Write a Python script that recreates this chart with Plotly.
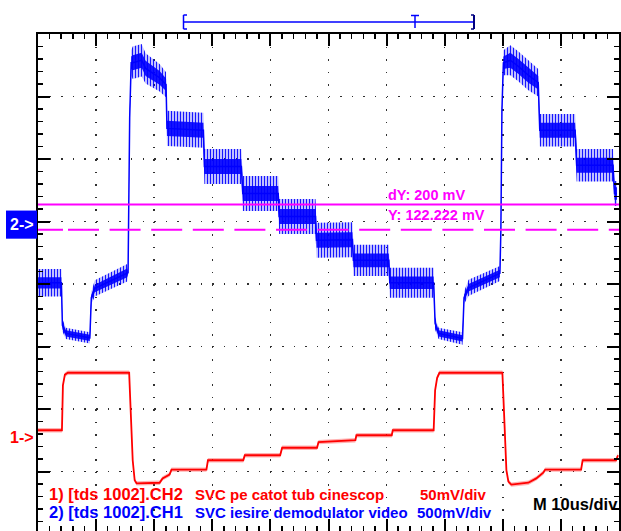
import plotly.graph_objects as go

# ---------------- data (x: time in us, 10 us/div ; y: screen divisions) ----------------
blue_t = [0, 4.03, 4.2, 4.8, 8.92, 9.18, 9.78, 15.35, 15.5, 15.78, 16.04, 16.3, 17.84,
          18.52, 20.93, 22.04, 22.2, 28.47, 28.64, 35.0, 35.25, 41.34, 41.51, 47.77,
          47.94, 54.12, 54.29, 60.38, 60.55, 68.1, 68.35, 68.95, 73.07, 73.33, 74.1,
          79.5, 79.67, 79.85, 80.1, 81.3, 82.7, 84.4, 86.1, 86.36, 92.45, 92.71, 98.97,
          99.23, 99.66]
blue_v = [0.02, 0.02, -0.66, -0.79, -0.86, -0.22, -0.07, 0.18, 0.18, 2.66, 3.54, 3.54,
          3.58, 3.45, 3.30, 3.19, 2.49, 2.46, 1.88, 1.88, 1.45, 1.45, 1.08, 1.08, 0.70,
          0.71, 0.38, 0.38, 0.02, 0.02, -0.63, -0.79, -0.87, -0.22, -0.06, 0.17, 0.86,
          2.78, 3.54, 3.58, 3.48, 3.34, 3.22, 2.46, 2.46, 1.90, 1.90, 1.45, 1.45]
# half-width of the dense noise core and of the noise spikes (divisions)
blue_core = [0.09, 0.09, 0.06, 0.05, 0.05, 0.05, 0.06, 0.07, 0.03, 0.03, 0.10, 0.12,
             0.12, 0.12, 0.11, 0.10, 0.12, 0.12, 0.12, 0.12, 0.12, 0.12, 0.12, 0.12,
             0.12, 0.12, 0.11, 0.11, 0.10, 0.10, 0.06, 0.05, 0.05, 0.05, 0.06, 0.06,
             0.03, 0.03, 0.10, 0.12, 0.12, 0.12, 0.11, 0.12, 0.12, 0.12, 0.12, 0.10, 0.10]
blue_spike = [0.22, 0.22, 0.10, 0.09, 0.09, 0.10, 0.13, 0.14, 0.05, 0.05, 0.20, 0.26,
              0.26, 0.24, 0.22, 0.20, 0.28, 0.28, 0.28, 0.28, 0.28, 0.28, 0.28, 0.28,
              0.28, 0.28, 0.25, 0.25, 0.24, 0.24, 0.10, 0.09, 0.10, 0.10, 0.13, 0.12,
              0.05, 0.05, 0.20, 0.24, 0.24, 0.24, 0.22, 0.26, 0.26, 0.26, 0.26, 0.20, 0.20]

red_t = [0, 4.12, 4.29, 4.63, 5.15, 15.69, 15.95, 16.3, 16.64, 16.98, 20.93, 21.44,
         22.64, 22.98, 28.99, 29.25, 35.33, 35.59, 41.68, 42.02, 48.03, 48.28, 54.63,
         54.8, 60.89, 61.06, 68.1, 68.35, 68.7, 69.1, 79.93, 80.1, 80.36, 80.62, 80.96,
         81.47, 84.4, 85.76, 86.96, 87.3, 93.48, 93.74, 99.49, 99.83]
red_v = [-2.34, -2.34, -1.62, -1.45, -1.42, -1.42, -2.02, -2.82, -3.14, -3.19, -3.18,
         -3.11, -3.05, -2.97, -2.97, -2.82, -2.82, -2.74, -2.74, -2.62, -2.62, -2.53,
         -2.50, -2.42, -2.42, -2.34, -2.34, -1.70, -1.50, -1.42, -1.42, -1.86, -2.34,
         -2.98, -3.16, -3.21, -3.18, -3.11, -3.02, -2.97, -2.97, -2.82, -2.82, -2.74]
red_noise = 0.035

cursor_solid = 1.272
cursor_dashed = 0.867
ch1_ground = -2.45
ch2_ground = 0.95

row1_labels = ["1) [tds 1002].CH2", "SVC pe catot tub cinescop", "50mV/div"]
row2_labels = ["2) [tds 1002].CH1", "SVC iesire demodulator video", "500mV/div"]
timebase_label = "M 10us/div"
cursor_labels = ["dY: 200 mV", "Y: 122.222 mV"]
marker_labels = ["1->", "2->"]

# ---------------- geometry ----------------
W, H = 621, 531
ML, MR, MT, MB = 38, 2, 34, 0
PW = W - ML - MR
PH = H - MT - MB
DIV_PX = 62.5
Y_TOP = 4.0
Y_BOT = Y_TOP - PH / DIV_PX
FONT = "Liberation Sans, Arial, sans-serif"
BLUE, RED, MAG = "#0000ff", "#ff0000", "#ff00ff"


def paper_x(px):
    return (px - ML) / PW


def paper_y(py):
    return (H - MB - py) / PH


def band(t, v, s):
    up = [a + b for a, b in zip(v, s)]
    lo = [a - b for a, b in zip(v, s)]
    return t + t[::-1], up + lo[::-1]


fig = go.Figure()

bx, by = band(blue_t, blue_v, blue_spike)
fig.add_trace(go.Scatter(x=bx, y=by, mode="lines", fill="toself",
                         fillcolor="rgba(0,0,255,0.10)", line=dict(width=0),
                         fillpattern=dict(shape="|", size=3, solidity=0.45,
                                          fgcolor=BLUE, bgcolor="rgba(0,0,255,0.10)",
                                          fgopacity=0.9),
                         hoverinfo="skip"))
bx, by = band(blue_t, blue_v, blue_core)
fig.add_trace(go.Scatter(x=bx, y=by, mode="lines", fill="toself",
                         fillcolor="rgba(0,0,255,0.9)", line=dict(width=0),
                         hoverinfo="skip"))
fig.add_trace(go.Scatter(x=blue_t, y=blue_v, mode="lines",
                         line=dict(color=BLUE, width=1.5), hoverinfo="skip"))

rx, ry = band(red_t, red_v, [red_noise] * len(red_v))
fig.add_trace(go.Scatter(x=rx, y=ry, mode="lines", fill="toself",
                         fillcolor="rgba(255,0,0,0.30)", line=dict(width=0),
                         hoverinfo="skip"))
fig.add_trace(go.Scatter(x=red_t, y=red_v, mode="lines",
                         line=dict(color=RED, width=1.8), hoverinfo="skip"))

axis_common = dict(showline=True, linecolor="black", linewidth=2, mirror="allticks",
                   ticks="inside", tickcolor="black", tickwidth=2, ticklen=12,
                   showticklabels=False, zeroline=False, showgrid=True,
                   gridcolor="#303030", gridwidth=1.5, fixedrange=True)

fig.update_layout(
    width=W, height=H,
    margin=dict(l=ML, r=MR, t=MT, b=MB, pad=0),
    paper_bgcolor="white", plot_bgcolor="white",
    showlegend=False,
    xaxis=dict(range=[0, 100], tick0=0, dtick=10, griddash="1.5px,11px",
               minor=dict(ticks="inside", ticklen=5, tickwidth=1.5, tickcolor="black",
                          dtick=2, tick0=0, showgrid=False),
               **axis_common),
    yaxis=dict(range=[Y_BOT, Y_TOP], tick0=0, dtick=1, griddash="1.5px,10.12px",
               minor=dict(ticks="inside", ticklen=5, tickwidth=1.5, tickcolor="black",
                          dtick=0.2, tick0=0, showgrid=False),
               **axis_common),
)

shapes = []
# cursors
shapes.append(dict(type="line", xref="paper", yref="y", x0=0, x1=1,
                   y0=cursor_solid, y1=cursor_solid, line=dict(color=MAG, width=2)))
dash = "25px,5px" + ",31px,10.6px" * 15
shapes.append(dict(type="line", xref="paper", yref="y", x0=0, x1=1,
                   y0=cursor_dashed, y1=cursor_dashed,
                   line=dict(color=MAG, width=2, dash=dash)))
# ch2 ground marker box
shapes.append(dict(type="rect", xref="paper", yref="y", x0=paper_x(6), x1=paper_x(37),
                   y0=ch2_ground - 0.225, y1=ch2_ground + 0.225,
                   fillcolor=BLUE, line=dict(width=0), layer="above"))


# record-window bracket above the screen
def seg(x0, y0, x1, y1, color=BLUE, width=1.5):
    return dict(type="line", xref="paper", yref="paper",
                x0=paper_x(x0), x1=paper_x(x1), y0=paper_y(y0), y1=paper_y(y1),
                line=dict(color=color, width=width))


shapes += [
    seg(183.5, 22, 474, 22),
    seg(183.5, 15, 183.5, 29), seg(183.5, 15, 187, 15), seg(183.5, 29, 187, 29),
    seg(474, 15, 474, 29, "#000080", 2), seg(471, 15, 474, 15, "#000080", 1.5),
    seg(471, 29, 474, 29, "#000080", 1.5),
    seg(415, 15.5, 415, 28), seg(411, 15.5, 419, 15.5),
]
fig.update_layout(shapes=shapes)

ann = []


def text(s, px, py, color, size, bold=True):
    ann.append(dict(text=("<b>%s</b>" % s) if bold else s, xref="paper", yref="paper",
                    x=paper_x(px), y=paper_y(py), xanchor="left", yanchor="middle",
                    showarrow=False, borderpad=0,
                    font=dict(family=FONT, size=size, color=color)))


text(row1_labels[0], 47.5, 494, RED, 16.5)
text(row1_labels[1], 193.5, 494, RED, 15)
text(row1_labels[2], 419.5, 494, RED, 15)
text(row2_labels[0], 47.5, 512, BLUE, 16.5)
text(row2_labels[1], 193.5, 512, BLUE, 15)
text(row2_labels[2], 416, 512, BLUE, 15)
text(timebase_label, 532, 503.5, "black", 16.5)
text(cursor_labels[0], 386.5, 195.5, MAG, 14.5)
text(cursor_labels[1], 386.5, 214.5, MAG, 14.5)

for lab, lvl, col in [(marker_labels[0], ch1_ground, RED), (marker_labels[1], ch2_ground, "white")]:
    ann.append(dict(text="<b>%s</b>" % lab, xref="paper", yref="y", x=paper_x(9), y=lvl,
                    xanchor="left", yanchor="middle", showarrow=False, borderpad=0,
                    font=dict(family=FONT, size=16, color=col)))

fig.update_layout(annotations=ann)

fig.write_html("out.html", config={"displayModeBar": False, "staticPlot": True})
